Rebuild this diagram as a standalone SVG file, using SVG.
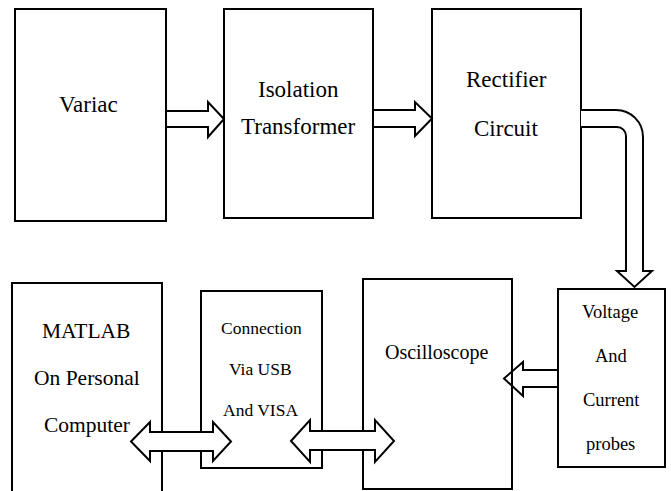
<svg xmlns="http://www.w3.org/2000/svg" width="671" height="491" viewBox="0 0 671 491">
<rect width="671" height="491" fill="#fff"/>
<g id="connectors-back" fill="#fff" stroke="#000" stroke-width="2">
<polygon points="558,370 523,370 523,362 504,378.5 523,396 523,387 558,387"/>
</g>
<g id="variac"><rect x="15" y="9" width="151" height="212" fill="none" stroke="#000" stroke-width="2"/><text x="59" y="112" font-size="23" style="font-family:'Liberation Serif'">Variac</text></g>
<g id="isolation"><rect x="224" y="9" width="149" height="209" fill="none" stroke="#000" stroke-width="2"/><text x="258" y="97" font-size="23" style="font-family:'Liberation Serif'">Isolation</text><text x="241" y="134" font-size="23" style="font-family:'Liberation Serif'">Transformer</text></g>
<g id="rectifier"><rect x="432" y="9" width="149" height="209" fill="none" stroke="#000" stroke-width="2"/><text x="466" y="87" font-size="23" style="font-family:'Liberation Serif'">Rectifier</text><text x="474" y="136" font-size="23" style="font-family:'Liberation Serif'">Circuit</text></g>
<g id="probes"><rect x="558" y="289" width="107" height="178" fill="none" stroke="#000" stroke-width="2"/><text x="582" y="318" font-size="18.5" style="font-family:'Liberation Serif'">Voltage</text><text x="595" y="362" font-size="18.5" style="font-family:'Liberation Serif'">And</text><text x="583" y="406" font-size="18.5" style="font-family:'Liberation Serif'">Current</text><text x="586" y="450" font-size="18.5" style="font-family:'Liberation Serif'">probes</text></g>
<g id="oscilloscope"><rect x="363" y="279" width="149" height="210" fill="none" stroke="#000" stroke-width="2"/><text x="385" y="359" font-size="20" style="font-family:'Liberation Serif'">Oscilloscope</text></g>
<g id="connection"><rect x="201" y="291" width="121" height="177" fill="none" stroke="#000" stroke-width="2"/><text x="221" y="334" font-size="17.5" style="font-family:'Liberation Serif'">Connection</text><text x="229" y="375" font-size="17.5" style="font-family:'Liberation Serif'">Via USB</text><text x="223" y="416" font-size="17.5" style="font-family:'Liberation Serif'">And VISA</text></g>
<g id="matlab"><path d="M12,493 V283 H162 V493" fill="none" stroke="#000" stroke-width="2"/><text x="42" y="338" font-size="21.5" style="font-family:'Liberation Serif'">MATLAB</text><text x="34" y="385" font-size="21.5" style="font-family:'Liberation Serif'">On Personal</text><text x="44" y="432" font-size="21.5" style="font-family:'Liberation Serif'">Computer</text></g>
<g id="connectors" fill="#fff" stroke="#000" stroke-width="2">
<polygon points="166,111 208,111 208,102 224,119 208,137 208,127 166,127"/>
<polygon points="373,110 415,110 415,102 432,118.5 415,136 415,127 373,127"/>
<path d="M581,110 H616 A27,27 0 0 1 643,137 V271 H652 L634.5,287 L617,271 H626 V136 A9,9 0 0 0 617,127 H581"/>
<polygon points="131,441.5 150,422 150,432 213,432 213,422 231,441.5 213,461 213,451 150,451 150,461"/>
<polygon points="291,441 310,420 310,431 375,431 375,420 394,441 375,462 375,450 310,450 310,462"/>
</g>
</svg>
